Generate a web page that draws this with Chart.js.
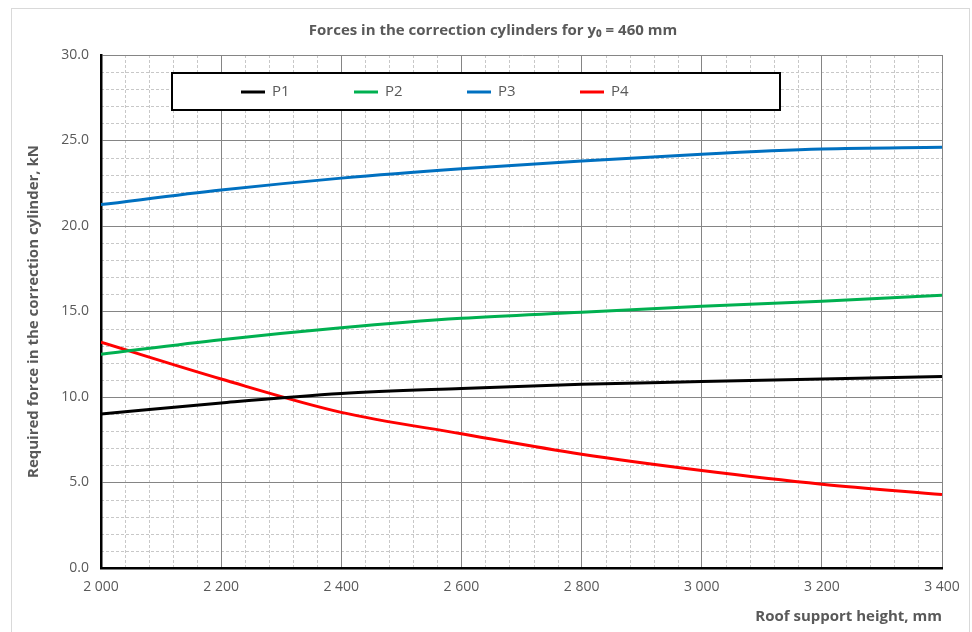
<!DOCTYPE html>
<html>
<head>
<meta charset="utf-8">
<script src="https://cdn.jsdelivr.net/npm/chart.js@4"></script>
<style>
  html, body { margin: 0; padding: 0; background: #fff; }
  #wrap { width: 972px; height: 632px; }
</style>
</head>
<body>
<div id="wrap"><canvas id="myChart" width="972" height="632"></canvas></div>
<script>
// roof support height, mm
const heights = [2000, 2200, 2400, 2600, 2800, 3000, 3200, 3400];
// required force, kN
const p1 = [9.0, 9.65, 10.2, 10.5, 10.75, 10.9, 11.05, 11.2];
const p2 = [12.5, 13.35, 14.05, 14.6, 14.95, 15.3, 15.6, 15.95];
const p3 = [21.25, 22.1, 22.8, 23.35, 23.8, 24.2, 24.5, 24.6];
const p4 = [13.2, 11.05, 9.1, 7.85, 6.65, 5.7, 4.9, 4.3];
const seriesNames = ['P1', 'P2', 'P3', 'P4'];
const seriesColors = ['#000000', '#00b050', '#0070c0', '#ff0000'];

const FONT = "'Open Sans', 'Liberation Sans', sans-serif";
const GREY = '#595959';

function toPoints(vals) {
    return heights.map((h, i) => ({ x: h, y: vals[i] }));
}

const allSeries = [p1, p2, p3, p4];
const datasets = allSeries.map((vals, i) => ({
    label: seriesNames[i],
    data: toPoints(vals),
    borderColor: seriesColors[i],
    backgroundColor: seriesColors[i],
    borderWidth: 3,
    pointRadius: 0,
    cubicInterpolationMode: 'monotone',
    fill: false
}));

// frame, background and minor dashed grid
const backdrop = {
    id: 'backdrop',
    beforeDraw(chart) {
        const c = chart.ctx;
        const a = chart.chartArea;
        const xs = chart.scales.x, ys = chart.scales.y;
        c.save();
        c.fillStyle = '#fff';
        c.fillRect(0, 0, chart.width, chart.height);
        c.strokeStyle = '#d9d9d9';
        c.lineWidth = 1;
        c.strokeRect(11.5, 8.5, 958, 640);
        c.strokeStyle = '#c8c8c8';
        c.setLineDash([3, 2]);
        for (let v = 2040; v < 3400; v += 40) {
            if (v % 200 === 0) continue;
            const px = Math.round(xs.getPixelForValue(v)) + 0.5;
            c.beginPath(); c.moveTo(px, a.top); c.lineTo(px, a.bottom); c.stroke();
        }
        for (let v = 1; v < 30; v += 1) {
            if (v % 5 === 0) continue;
            const py = Math.round(ys.getPixelForValue(v)) + 0.5;
            c.beginPath(); c.moveTo(a.left, py); c.lineTo(a.right, py); c.stroke();
        }
        c.restore();
    }
};

// boxed legend inside the plot
const boxLegend = {
    id: 'boxLegend',
    afterDatasetsDraw(chart) {
        const c = chart.ctx;
        c.save();
        c.fillStyle = '#fff';
        c.fillRect(172, 73, 608, 37);
        c.strokeStyle = '#000';
        c.lineWidth = 2;
        c.strokeRect(172, 73, 608, 37);
        c.font = '15px ' + FONT;
        c.textBaseline = 'middle';
        chart.data.datasets.forEach((ds, i) => {
            const x0 = 241 + i * 113;
            const y0 = 92;
            c.strokeStyle = ds.borderColor;
            c.lineWidth = 3;
            c.beginPath(); c.moveTo(x0, y0); c.lineTo(x0 + 24, y0); c.stroke();
            c.fillStyle = GREY;
            c.fillText(ds.label, x0 + 31, y0);
        });
        c.restore();
    }
};

const ctx = document.getElementById('myChart').getContext('2d');
const myChart = new Chart(ctx, {
    type: 'line',
    data: { datasets: datasets },
    options: {
        responsive: false,
        animation: false,
        layout: { padding: { left: 25, right: 11, top: 0, bottom: 0 } },
        plugins: {
            legend: { display: false },
            tooltip: { enabled: false },
            title: {
                display: true,
                text: 'Forces in the correction cylinders for y\u2080 = 460 mm',
                color: GREY,
                font: { family: FONT, size: 15, weight: 'bold' },
                padding: { top: 22, bottom: 15 }
            }
        },
        scales: {
            x: {
                type: 'linear',
                min: 2000,
                max: 3400,
                afterFit(scale) { scale.height = 64; },
                ticks: {
                    stepSize: 200,
                    color: GREY,
                    padding: 11,
                    maxRotation: 0,
                    font: { family: FONT, size: 14 },
                    callback: v => String(v).replace(/\B(?=(\d{3})+(?!\d))/g, ' ')
                },
                grid: { color: '#858585', lineWidth: 1, drawTicks: false },
                border: { color: '#000', width: 2.5 },
                title: {
                    display: true,
                    align: 'end',
                    text: 'Roof support height, mm',
                    color: GREY,
                    font: { family: FONT, size: 15, weight: 'bold' },
                    padding: { top: 4, bottom: 6 }
                }
            },
            y: {
                min: 0,
                max: 30,
                afterFit(scale) { scale.width = 76; },
                ticks: {
                    stepSize: 5,
                    color: GREY,
                    padding: 12,
                    font: { family: FONT, size: 14 },
                    callback: v => v.toFixed(1)
                },
                grid: { color: '#858585', lineWidth: 1, drawTicks: false },
                border: { color: '#000', width: 2.5 },
                title: {
                    display: true,
                    text: 'Required force in the correction cylinder, kN',
                    color: GREY,
                    font: { family: FONT, size: 15, weight: 'bold' },
                    padding: { top: 0, bottom: 10 }
                }
            },
            // empty spacer on the right so the title sits centred like the original
            yr: {
                position: 'right',
                afterFit(scale) { scale.width = 19; },
                ticks: { display: false },
                grid: { display: false, drawTicks: false },
                border: { display: false }
            }
        }
    },
    plugins: [backdrop, boxLegend]
});
</script>
</body>
</html>
